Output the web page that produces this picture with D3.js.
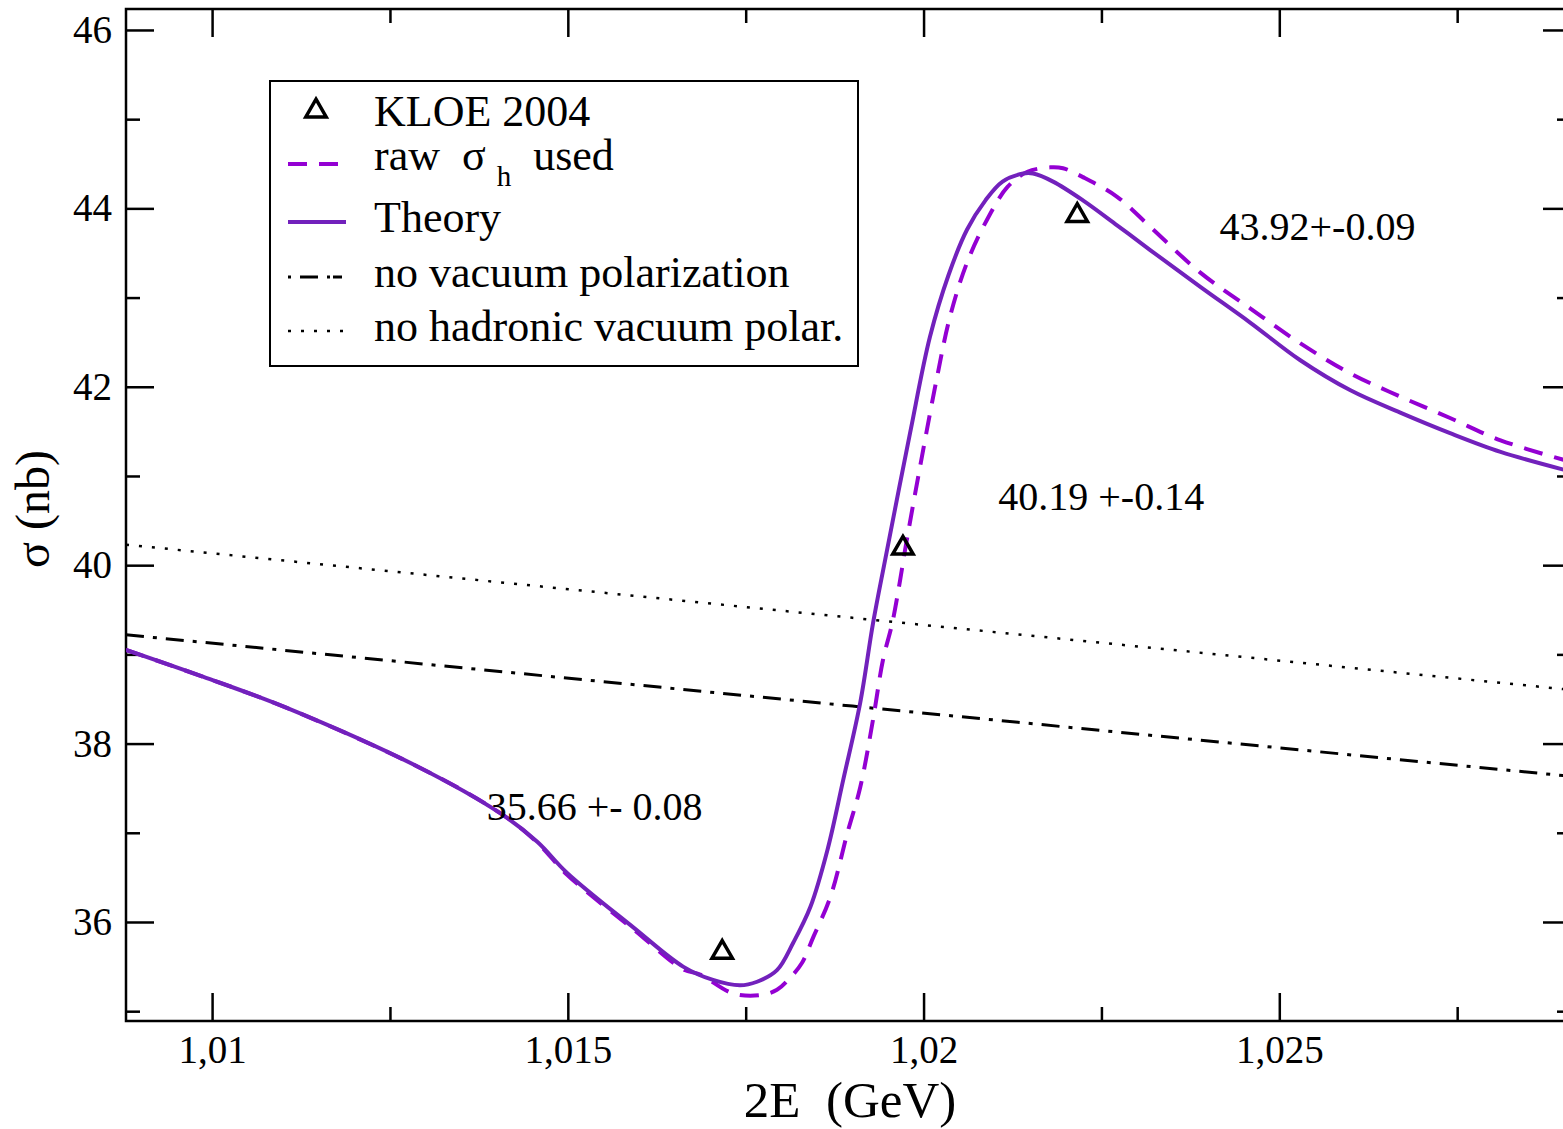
<!DOCTYPE html>
<html>
<head>
<meta charset="utf-8">
<title>sigma vs 2E</title>
<script src="https://d3js.org/d3.v7.min.js"></script>
<style>
    body { margin: 0; background: #fff; }
    svg text { font-family: "Liberation Serif", "Times New Roman", serif; fill: #000; }
    .tick line { stroke: #000; stroke-width: 2.5; }
    .ticklabel { font-size: 39px; }
</style>
</head>
<body>
<script>
// ---- data ----
var theoryE = [1.00879, 1.00987, 1.01105, 1.01292, 1.01405, 1.01457, 1.01499, 1.01592, 1.01662, 1.01704,
               1.01742, 1.01766, 1.01794, 1.01817, 1.01841, 1.01865, 1.01887, 1.01911, 1.01929, 1.01946,
               1.01981, 1.02009, 1.02035, 1.02061, 1.02087, 1.02111, 1.0214, 1.02154, 1.02182, 1.02224,
               1.02272, 1.02319, 1.02389, 1.02459, 1.02529, 1.026, 1.0267, 1.0274, 1.02811, 1.029];
var theorySigma = [39.05, 38.75, 38.40, 37.73, 37.22, 36.90, 36.55, 35.94, 35.50, 35.35,
                   35.29, 35.33, 35.46, 35.77, 36.17, 36.81, 37.59, 38.46, 39.35, 40.06,
                   41.48, 42.56, 43.25, 43.76, 44.09, 44.30, 44.39, 44.39, 44.30, 44.09,
                   43.81, 43.53, 43.12, 42.72, 42.30, 41.96, 41.71, 41.48, 41.27, 41.07];

var rawE = [1.00879, 1.00987, 1.01105, 1.01292, 1.01405, 1.01457, 1.01499, 1.01592, 1.01662, 1.01686,
            1.01732, 1.0177, 1.01794, 1.01813, 1.01829, 1.01845, 1.01869, 1.01893, 1.01911, 1.01929,
            1.01943, 1.01956, 1.01967, 1.01974, 1.01995, 1.02019, 1.02037, 1.02061, 1.02089, 1.02118,
            1.02146, 1.02178, 1.02196, 1.02224, 1.02272, 1.02319, 1.02389, 1.02459, 1.02529, 1.026,
            1.0267, 1.0274, 1.02811, 1.029];
var rawSigma = [39.05, 38.75, 38.40, 37.73, 37.22, 36.89, 36.53, 35.92, 35.47, 35.41,
                35.20, 35.18, 35.24, 35.38, 35.54, 35.83, 36.28, 37.00, 37.51, 38.27,
                38.94, 39.35, 39.83, 40.17, 41.10, 42.11, 42.78, 43.39, 43.87, 44.24,
                44.41, 44.46, 44.45, 44.35, 44.13, 43.79, 43.28, 42.88, 42.49, 42.15,
                41.89, 41.65, 41.40, 41.18];

var noVpE = [1.00879, 1.019, 1.029];
var noVpSigma = [39.22, 38.42, 37.64];

var noHadE = [1.00879, 1.019, 1.029];
var noHadSigma = [40.23, 39.41, 38.61];

var kloeE = [1.01717, 1.01971, 1.02216];
var kloeSigma = [35.66, 40.19, 43.92];
var kloeLabels = ["35.66 +- 0.08", "40.19 +-0.14", "43.92+-0.09"];
var kloeLabelPos = [[1.01386, 37.14], [1.02105, 40.62], [1.02416, 43.65]];

var xMajor = [1.01, 1.015, 1.02, 1.025];
var xMinor = [1.0125, 1.0175, 1.0225, 1.0275];
var yMajor = [36, 38, 40, 42, 44, 46];
var yMinor = [35, 37, 39, 41, 43, 45];

// ---- layout ----
var W = 1563, H = 1129;
var frame = {left: 126, right: 1571, top: 9, bottom: 1021};
var theoryColor = "#7221bc";
var rawColor = "#9400d3";

var svg = d3.select("body").append("svg")
    .attr("width", W)
    .attr("height", H);

var x = d3.scaleLinear().domain([1.00879, 1.0291]).range([frame.left, frame.right]);
var y = d3.scaleLinear().domain([34.89, 46.235]).range([frame.bottom, frame.top]);

svg.append("clipPath").attr("id", "plotclip")
    .append("rect")
    .attr("x", frame.left).attr("y", frame.top)
    .attr("width", frame.right - frame.left).attr("height", frame.bottom - frame.top);

// ---- axes (ticks pointing inward on all four sides) ----
var fmtX = function(d){ return d3.format(".3~f")(d).replace(".", ","); };

function addAxis(axis, tx, ty, labels){
    var g = svg.append("g")
        .attr("transform", "translate(" + tx + "," + ty + ")")
        .call(axis);
    g.select(".domain").remove();
    if (labels) {
        g.selectAll("text").attr("class", "ticklabel").attr("fill", "#000");
    } else {
        g.selectAll("text").remove();
    }
    return g;
}

addAxis(d3.axisBottom(x).tickValues(xMajor).tickSize(-28).tickPadding(14).tickFormat(fmtX), 0, frame.bottom, true);
addAxis(d3.axisBottom(x).tickValues(xMinor).tickSize(-14), 0, frame.bottom, false);
addAxis(d3.axisTop(x).tickValues(xMajor).tickSize(-28), 0, frame.top, false);
addAxis(d3.axisTop(x).tickValues(xMinor).tickSize(-14), 0, frame.top, false);

addAxis(d3.axisLeft(y).tickValues(yMajor).tickSize(-28).tickPadding(14).tickFormat(d3.format("d")), frame.left, 0, true);
addAxis(d3.axisLeft(y).tickValues(yMinor).tickSize(-14), frame.left, 0, false);
addAxis(d3.axisRight(y).tickValues(yMajor).tickSize(-28), frame.right, 0, false);
addAxis(d3.axisRight(y).tickValues(yMinor).tickSize(-14), frame.right, 0, false);

svg.append("rect")
    .attr("x", frame.left).attr("y", frame.top)
    .attr("width", frame.right - frame.left).attr("height", frame.bottom - frame.top)
    .attr("fill", "none")
    .attr("stroke", "#000")
    .attr("stroke-width", 2.5);

// axis titles
svg.append("text")
    .attr("x", 850).attr("y", 1117)
    .attr("text-anchor", "middle")
    .attr("font-size", 51)
    .attr("xml:space", "preserve")
    .text("2E  (GeV)");

svg.append("text")
    .attr("transform", "translate(49,509) rotate(-90)")
    .attr("text-anchor", "middle")
    .attr("font-size", 48)
    .text("σ (nb)");

// ---- curves ----
var line = d3.line()
    .curve(d3.curveCatmullRom.alpha(0.5))
    .x(function(d){ return x(d[0]); })
    .y(function(d){ return y(d[1]); });

var straight = d3.line()
    .x(function(d){ return x(d[0]); })
    .y(function(d){ return y(d[1]); });

var plot = svg.append("g").attr("clip-path", "url(#plotclip)");

function pairs(a, b){ return a.map(function(v, i){ return [v, b[i]]; }); }

plot.append("path")
    .datum(pairs(noHadE, noHadSigma))
    .attr("d", straight)
    .attr("fill", "none").attr("stroke", "#000")
    .attr("stroke-width", 2.5)
    .attr("stroke-dasharray", "3,10");

plot.append("path")
    .datum(pairs(noVpE, noVpSigma))
    .attr("d", straight)
    .attr("fill", "none").attr("stroke", "#000")
    .attr("stroke-width", 3)
    .attr("stroke-dasharray", "18,9,4,9");

plot.append("path")
    .datum(pairs(rawE, rawSigma))
    .attr("d", line)
    .attr("fill", "none").attr("stroke", rawColor)
    .attr("stroke-width", 4)
    .attr("stroke-dasharray", "19,12");

plot.append("path")
    .datum(pairs(theoryE, theorySigma))
    .attr("d", line)
    .attr("fill", "none").attr("stroke", theoryColor)
    .attr("stroke-width", 4);

// KLOE points
var tri = d3.symbol().type(d3.symbolTriangle).size(180);
plot.selectAll(".kloe")
    .data(pairs(kloeE, kloeSigma))
    .enter().append("path")
    .attr("class", "kloe")
    .attr("d", tri)
    .attr("transform", function(d){ return "translate(" + x(d[0]) + "," + y(d[1]) + ")"; })
    .attr("fill", "none").attr("stroke", "#000").attr("stroke-width", 3.5);

svg.selectAll(".note")
    .data(kloeLabels)
    .enter().append("text")
    .attr("class", "note")
    .attr("x", function(d, i){ return x(kloeLabelPos[i][0]); })
    .attr("y", function(d, i){ return y(kloeLabelPos[i][1]); })
    .attr("font-size", 40)
    .attr("xml:space", "preserve")
    .text(function(d){ return d; });

// ---- legend ----
var legend = svg.append("g");
legend.append("rect")
    .attr("x", 270).attr("y", 81)
    .attr("width", 588).attr("height", 285)
    .attr("fill", "#fff").attr("stroke", "#000").attr("stroke-width", 2);

legend.append("path")
    .attr("d", tri)
    .attr("transform", "translate(316,111)")
    .attr("fill", "none").attr("stroke", "#000").attr("stroke-width", 3.5);

var legendLines = [
    {y: 164, color: rawColor, dash: "19,12", w: 4},
    {y: 222, color: theoryColor, dash: null, w: 4},
    {y: 277, color: "#000", dash: "3,9,18,9,3", w: 3},
    {y: 331, color: "#000", dash: "3,10", w: 2.5}
];
legendLines.forEach(function(l){
    legend.append("line")
        .attr("x1", 288).attr("x2", 346)
        .attr("y1", l.y).attr("y2", l.y)
        .attr("stroke", l.color)
        .attr("stroke-width", l.w)
        .attr("stroke-dasharray", l.dash);
});

var lf = 44;
legend.append("text").attr("x", 374).attr("y", 126).attr("font-size", lf).text("KLOE 2004");
var rawText = legend.append("text").attr("x", 374).attr("y", 170).attr("font-size", lf).attr("xml:space", "preserve");
rawText.append("tspan").text("raw  σ ");
rawText.append("tspan").attr("font-size", 29).attr("dy", 16).text("h");
rawText.append("tspan").attr("dy", -16).text("  used");
legend.append("text").attr("x", 374).attr("y", 232).attr("font-size", lf).text("Theory");
legend.append("text").attr("x", 374).attr("y", 287).attr("font-size", lf).text("no vacuum polarization");
legend.append("text").attr("x", 374).attr("y", 341).attr("font-size", lf).text("no hadronic vacuum polar.");
</script>
</body>
</html>
